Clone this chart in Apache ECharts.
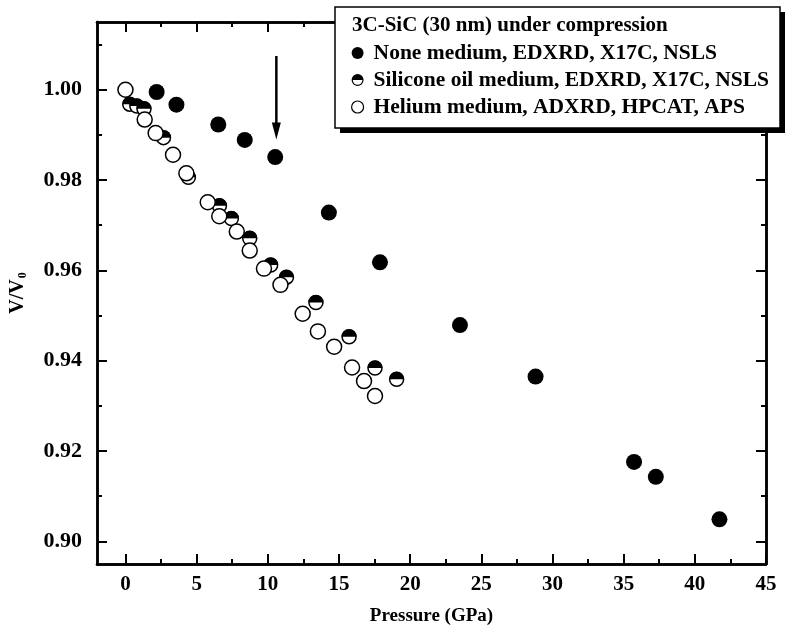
<!DOCTYPE html>
<html>
<head>
<meta charset="utf-8">
<script src="https://cdn.jsdelivr.net/npm/echarts@6/dist/echarts.min.js"></script>
<style>html,body{margin:0;padding:0;background:#fff}#c{width:800px;height:631px}</style>
</head>
<body>
<div id="c"></div>
<script>
// ---- data ----
const pressureNone = [2.19, 3.58, 6.52, 8.38, 10.52, 14.29, 17.88, 23.5, 28.81, 35.73, 37.26, 41.73];
const volNone      = [0.9995, 0.9967, 0.9923, 0.9889, 0.9851, 0.9728, 0.9618, 0.9479, 0.9365, 0.9176, 0.9143, 0.9049];

const pressureOil = [0.3, 0.8, 1.3, 2.67, 4.42, 6.6, 7.44, 8.73, 10.2, 11.31, 13.38, 15.71, 17.53, 19.05];
const volOil      = [0.9968, 0.9964, 0.9958, 0.9894, 0.9806, 0.9743, 0.9715, 0.9671, 0.9612, 0.9585, 0.9529, 0.9453, 0.9384, 0.9359];

const pressureHe = [0, 1.35, 2.12, 3.34, 4.28, 5.78, 6.59, 7.82, 8.73, 9.73, 10.89, 12.45, 13.52, 14.66, 15.92, 16.76, 17.53];
const volHe      = [1.0, 0.9934, 0.9904, 0.9856, 0.9815, 0.9751, 0.9720, 0.9686, 0.9644, 0.9604, 0.9568, 0.9504, 0.9465, 0.9431, 0.9385, 0.9355, 0.9322];

const arrowX = [10.6, 10.6];
const arrowY = [1.0075, 0.9905];

const xMajorTicks = [0, 5, 10, 15, 20, 25, 30, 35, 40, 45];
const xMinorTicks = [2.5, 7.5, 12.5, 17.5, 22.5, 27.5, 32.5, 37.5, 42.5];
const yMajorTicks = [0.90, 0.92, 0.94, 0.96, 0.98, 1.00];
const yMinorTicks = [0.91, 0.93, 0.95, 0.97, 0.99, 1.01];

const nameNone = 'None medium, EDXRD, X17C, NSLS';
const nameOil  = 'Silicone oil medium, EDXRD, X17C, NSLS';
const nameHe   = 'Helium medium, ADXRD, HPCAT, APS';
const legendTitle = '3C-SiC (30 nm) under compression';

// ---- build ----
const zip = (a, b) => a.map((v, i) => [v, b[i]]);
const FONT = 'Liberation Serif';
const lineW = 2.5;

function xAxisDef(pos, ticks, len, labels) {
  return {
    type: 'value', min: -2, max: 45, position: pos,
    axisLine: { show: true, onZero: false, lineStyle: { color: '#000', width: lineW } },
    axisTick: { show: true, inside: true, length: len, customValues: ticks, lineStyle: { color: '#000', width: 2 } },
    axisLabel: labels ? { show: true, customValues: ticks, margin: 10, color: '#000', fontFamily: FONT, fontWeight: 'bold', fontSize: 21, formatter: v => String(v) } : { show: false },
    splitLine: { show: false }
  };
}
function yAxisDef(pos, ticks, len, labels) {
  return {
    type: 'value', min: 0.895, max: 1.015, position: pos,
    axisLine: { show: true, onZero: false, lineStyle: { color: '#000', width: lineW } },
    axisTick: { show: true, inside: true, length: len, customValues: ticks, lineStyle: { color: '#000', width: 2 } },
    axisLabel: labels ? { show: true, customValues: ticks, margin: 15, color: '#000', fontFamily: FONT, fontWeight: 'bold', fontSize: 22, formatter: v => v.toFixed(2) } : { show: false },
    splitLine: { show: false }
  };
}

const xAxes = [
  xAxisDef('bottom', xMajorTicks, 10, true),
  xAxisDef('bottom', xMinorTicks, 5, false),
  xAxisDef('top', xMajorTicks, 10, false),
  xAxisDef('top', xMinorTicks, 5, false)
];
Object.assign(xAxes[0], { name: 'Pressure (GPa)', nameLocation: 'middle', nameGap: 43,
  nameTextStyle: { color: '#000', fontFamily: FONT, fontWeight: 'bold', fontSize: 19 } });

const yAxes = [
  yAxisDef('left', yMajorTicks, 10, true),
  yAxisDef('left', yMinorTicks, 5, false),
  yAxisDef('right', yMajorTicks, 10, false),
  yAxisDef('right', yMinorTicks, 5, false)
];
Object.assign(yAxes[0], { name: 'V/V{s|0}', nameLocation: 'middle', nameGap: 68, nameRotate: 90,
  nameTextStyle: { color: '#000', fontFamily: FONT, fontWeight: 'bold', fontSize: 20,
    rich: { s: { fontFamily: FONT, fontWeight: 'bold', fontSize: 12, padding: [10, 0, 0, 1], color: '#000' } } } });

const halfTop = 'path://M-10,0 A10,10 0 0 1 10,0 Z';
const halfIcon = 'path://M-10,0 A10,10 0 0 1 10,0 Z M-10,0 A10,10 0 0 0 10,0 L8,0 A8,8 0 0 1 -8,0 Z';
const arrowHead = 'path://M0,0 L10,0 L5,20 Z';

const option = {
  animation: false,
  backgroundColor: '#fff',
  grid: { left: 92, right: 34, top: 22, bottom: 64, containLabel: false },
  xAxis: xAxes,
  yAxis: yAxes,
  legend: {
    orient: 'vertical', left: 351, top: 42, padding: 0, itemWidth: 12, itemHeight: 12, itemGap: 5, z: 30,
    textStyle: { color: '#000', fontFamily: FONT, fontWeight: 'bold', fontSize: 21.5, lineHeight: 22, padding: [0, 0, 0, 5] },
    data: [
      { name: nameNone, icon: 'circle', itemStyle: { color: '#000', borderWidth: 0 } },
      { name: nameOil, icon: halfIcon, itemStyle: { color: '#000', borderWidth: 0 } },
      { name: nameHe, icon: 'circle', itemStyle: { color: '#fff', borderColor: '#000', borderWidth: 1.2 } }
    ]
  },
  graphic: [
    { type: 'rect', shape: { x: 340, y: 12, width: 445, height: 121 }, style: { fill: '#000' }, z: 10 },
    { type: 'rect', shape: { x: 335, y: 7, width: 445, height: 121 }, style: { fill: '#fff', stroke: '#000', lineWidth: 1.5 }, z: 11 },
    { type: 'text', left: 352, top: 15, style: { text: legendTitle, fill: '#000', font: 'bold 21px "Liberation Serif"' }, z: 12 }
  ],
  series: [
    { name: nameNone, type: 'scatter', data: zip(pressureNone, volNone), symbol: 'circle', symbolSize: 16,
      itemStyle: { color: '#000', opacity: 1 }, z: 2 },
    { name: nameOil, type: 'scatter', data: zip(pressureOil, volOil), symbol: 'circle', symbolSize: 14,
      itemStyle: { color: '#fff', borderColor: '#000', borderWidth: 1.5, opacity: 1 }, z: 3 },
    { name: 'oil-top', type: 'scatter', data: zip(pressureOil, volOil), symbol: halfTop, symbolSize: [15, 7.5], symbolOffset: [0, -3.75],
      itemStyle: { color: '#000', opacity: 1 }, z: 3 },
    { name: nameHe, type: 'scatter', data: zip(pressureHe, volHe), symbol: 'circle', symbolSize: 15,
      itemStyle: { color: '#fff', borderColor: '#000', borderWidth: 1.5, opacity: 1 }, z: 4 },
    { name: 'arrow', type: 'line', data: zip(arrowX, arrowY), symbol: 'none', lineStyle: { color: '#000', width: 2.5 }, z: 5, silent: true },
    { name: 'arrowhead', type: 'scatter', data: [[arrowX[1], arrowY[1] - 0.0015]], symbol: arrowHead, symbolSize: [9, 17], symbolOffset: [0, -8.5],
      itemStyle: { color: '#000', opacity: 1 }, z: 5, silent: true }
  ]
};

const chart = echarts.init(document.getElementById('c'), null, { renderer: 'canvas' });
chart.setOption(option);
</script>
</body>
</html>
